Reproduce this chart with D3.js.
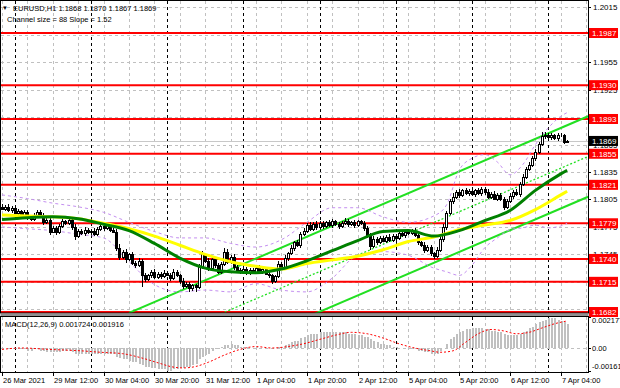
<!DOCTYPE html>
<html>
<head>
<meta charset="utf-8">
<script src="https://cdn.jsdelivr.net/npm/d3@7"></script>
<style>
  body { margin: 0; background: #fff; }
  svg { display: block; font-family: "Liberation Sans", Arial, sans-serif; }
</style>
</head>
<body>
<svg id="chart" width="620" height="388"></svg>
<script>
// ---- data ----
const symbolTitle = "EURUSD,H1"
const lastQuote = [1.1868, 1.1870, 1.1867, 1.1869]
const channelText = "Channel size = 88 Slope = 1.52"
const macdText = "MACD(12,26,9) 0.001724 0.001916"

const firstOpen = 1.1797
const closes = [
  1.1795, 1.1797, 1.1793, 1.1796, 1.1790, 1.1792, 1.1788, 1.1791, 1.1786, 1.1784,
  1.1788, 1.1791, 1.1787, 1.1780, 1.1783, 1.1770, 1.1774, 1.1769, 1.1776, 1.1781,
  1.1779, 1.1783, 1.1775, 1.1765, 1.1771, 1.1768, 1.1772, 1.1769, 1.1771, 1.1767,
  1.1773, 1.1776, 1.1774, 1.1777, 1.1772, 1.1770, 1.1752, 1.1742, 1.1748, 1.1740,
  1.1745, 1.1736, 1.1733, 1.1738, 1.1722, 1.1718, 1.1722, 1.1726, 1.1720, 1.1724,
  1.1721, 1.1725, 1.1723, 1.1719, 1.1726, 1.1722, 1.1716, 1.1710, 1.1713, 1.1708,
  1.1711, 1.1709, 1.1732, 1.1745, 1.1738, 1.1730, 1.1740, 1.1733, 1.1726, 1.1735,
  1.1748, 1.1737, 1.1742, 1.1731, 1.1728, 1.1726, 1.1729, 1.1725, 1.1728, 1.1726,
  1.1730, 1.1727, 1.1729, 1.1724, 1.1722, 1.1716, 1.1721, 1.1735, 1.1731, 1.1741,
  1.1746, 1.1752, 1.1758, 1.1755, 1.1767, 1.1771, 1.1777, 1.1773, 1.1778, 1.1775,
  1.1779, 1.1776, 1.1780, 1.1777, 1.1781, 1.1778, 1.1776, 1.1779, 1.1782, 1.1778,
  1.1780, 1.1777, 1.1781, 1.1779, 1.1774, 1.1766, 1.1754, 1.1762, 1.1758, 1.1763,
  1.1760, 1.1764, 1.1761, 1.1765, 1.1763, 1.1768, 1.1766, 1.1770, 1.1768, 1.1771,
  1.1766, 1.1758, 1.1755, 1.1750, 1.1753, 1.1746, 1.1743, 1.1750, 1.1762, 1.1775,
  1.1790, 1.1803, 1.1808, 1.1813, 1.1810, 1.1815, 1.1812, 1.1814, 1.1811, 1.1815,
  1.1812, 1.1817, 1.1813, 1.1808, 1.1811, 1.1806, 1.1810, 1.1805, 1.1797, 1.1803,
  1.1809, 1.1813, 1.1811, 1.1822, 1.1830, 1.1838, 1.1843, 1.1850, 1.1857, 1.1866,
  1.1874, 1.1876, 1.1873, 1.1875, 1.1872, 1.1875, 1.1876, 1.1868, 1.1869
]
// upper / lower shadow lengths in pips
const wickUp = [
  3,2,3,2,2,3,2,2,3,2, 2,3,2,3,2,4,2,2,2,3, 2,3,2,3,2,2,3,2,2,3,
  2,2,3,2,2,2,3,4,2,3, 2,3,2,3,2,3,2,2,3,2, 2,3,2,2,3,2,2,3,2,2,
  2,2,3,4,2,3,2,2,3,2, 4,3,2,3,2,2,3,2,2,2, 2,3,2,2,2,2,2,3,2,3,
  2,3,2,3,2,3,2,3,2,3, 2,3,2,3,3,2,2,3,3,2, 2,3,2,2,2,2,2,3,2,2,
  2,2,3,2,2,2,3,2,3,2, 3,2,2,3,2,2,2,3,4,3, 2,3,4,2,4,2,3,2,3,2,
  3,2,2,3,2,3,2,2,3,2, 3,2,3,2,3,2,3,2,3,2, 5,3,2,3,2,3,2,1,1
]
const wickDn = [
  2,3,2,3,2,2,3,2,3,2, 3,2,2,3,2,4,2,3,2,2, 2,2,3,4,2,2,3,2,3,2,
  2,2,3,2,3,2,3,3,2,4, 2,3,3,2,13,3,2,3,2,2, 3,2,2,3,2,2,3,3,2,4,
  3,5,2,3,2,3,2,3,2,2, 3,2,2,3,2,2,2,3,2,2, 2,2,3,2,3,3,2,2,3,2,
  3,2,3,2,3,2,3,2,2,3, 2,3,2,2,3,2,3,2,2,3, 2,3,2,2,3,3,4,2,3,2,
  2,3,2,2,3,2,2,3,2,2, 2,3,2,3,2,3,3,2,2,3, 3,2,3,2,3,2,2,3,2,3,
  2,3,3,2,3,2,3,2,3,2, 2,3,2,3,2,3,2,2,3,2, 2,3,2,3,2,3,2,2,1
]

const maBars = [0, 8, 16, 24, 32, 40, 48, 56, 64, 72, 80, 88, 96, 104, 112, 120, 128, 136, 144, 152, 160, 168, 176, 178]
const maGreen = [1.1783, 1.1785, 1.1786, 1.1784, 1.1778, 1.1771, 1.1757, 1.1741, 1.1730, 1.1726, 1.1725, 1.1729,
  1.1738, 1.1749, 1.1760, 1.1770, 1.1771, 1.1765, 1.1771, 1.1782, 1.1793, 1.1815, 1.1833, 1.1837]
const maYellow = [1.1788, 1.1787, 1.1786, 1.1784, 1.1779, 1.1773, 1.1765, 1.1755, 1.1745, 1.1737, 1.1732, 1.1729,
  1.1735, 1.1739, 1.1743, 1.1750, 1.1759, 1.1764, 1.1772, 1.1777, 1.1782, 1.1794, 1.1810, 1.1814]

const bbBars = [0, 8, 16, 24, 32, 40, 48, 56, 64, 72, 80, 88, 96, 104, 112, 120, 128, 136, 140, 144, 148, 152, 156, 160, 164, 168, 172, 176, 178]
const bbUpper = [1.1810, 1.1806, 1.1801, 1.1797, 1.1791, 1.1780, 1.1770, 1.1763, 1.1763, 1.1757, 1.1753, 1.1761, 1.1780,
  1.1796, 1.1796, 1.1786, 1.1780, 1.1787, 1.1799, 1.1837, 1.1850, 1.1854, 1.1846, 1.1832, 1.1843, 1.1865, 1.1883, 1.1896, 1.1900]
const bbLower = [1.1775, 1.1773, 1.1771, 1.1767, 1.1763, 1.1737, 1.1712, 1.1704, 1.1706, 1.1704, 1.1713, 1.1706, 1.1704,
  1.1719, 1.1744, 1.1748, 1.1744, 1.1730, 1.1726, 1.1722, 1.1733, 1.1752, 1.1763, 1.1772, 1.1774, 1.1777, 1.1774, 1.1776, 1.1779]

// regression channel: middle line at two bars, half width
const channelBars = [40, 184.6]
const channelMid = [1.1637, 1.1852]
const channelHalf = 0.0044

const levels = [1.1987, 1.1930, 1.1893, 1.1855, 1.1821, 1.1779, 1.1740, 1.1715, 1.1682]
const priceTicks = [1.2015, 1.1985, 1.1955, 1.1925, 1.1895, 1.1865, 1.1835, 1.1805, 1.1775, 1.1745, 1.1715, 1.1685]

const macdHist = [
  0.0000, 0.0000, -0.0001, 0.0000, -0.0001, -0.0001, -0.0001, -0.0001, -0.0002, -0.0002,
  -0.0001, -0.0001, -0.0002, -0.0002, -0.0003, -0.0003, -0.0003, -0.0003, -0.0003, -0.0002,
  -0.0002, -0.0002, -0.0003, -0.0004, -0.0004, -0.0004, -0.0004, -0.0004, -0.0004, -0.0004,
  -0.0004, -0.0004, -0.0004, -0.0004, -0.0004, -0.0004, -0.0006, -0.0007, -0.0008, -0.0008,
  -0.0009, -0.0010, -0.0010, -0.0011, -0.0012, -0.0013, -0.0013, -0.0014, -0.0014, -0.0015,
  -0.0015, -0.0015, -0.0016, -0.0016, -0.0015, -0.0015, -0.0014, -0.0014, -0.0013, -0.0013,
  -0.0012, -0.0011, -0.0008, -0.0006, -0.0005, -0.0004, -0.0002, -0.0001, 0.0000, 0.0001,
  0.0002, 0.0002, 0.0003, 0.0002, 0.0002, 0.0001, 0.0001, 0.0001, 0.0000, 0.0000,
  0.0001, 0.0000, 0.0000, 0.0000, 0.0000, -0.0001, 0.0000, 0.0001, 0.0001, 0.0002,
  0.0003, 0.0004, 0.0005, 0.0005, 0.0007, 0.0008, 0.0009, 0.0010, 0.0010, 0.0010,
  0.0011, 0.0011, 0.0011, 0.0011, 0.0011, 0.0011, 0.0011, 0.0011, 0.0011, 0.0010,
  0.0010, 0.0010, 0.0009, 0.0009, 0.0008, 0.0008, 0.0006, 0.0005, 0.0004, 0.0003,
  0.0003, 0.0002, 0.0002, 0.0001, 0.0001, 0.0000, 0.0000, 0.0000, -0.0001, -0.0001,
  -0.0001, -0.0002, -0.0002, -0.0003, -0.0003, -0.0004, -0.0004, -0.0004, -0.0002, 0.0000,
  0.0003, 0.0006, 0.0008, 0.0010, 0.0011, 0.0012, 0.0013, 0.0013, 0.0014, 0.0014,
  0.0014, 0.0014, 0.0013, 0.0013, 0.0012, 0.0012, 0.0011, 0.0011, 0.0010, 0.0009,
  0.0009, 0.0009, 0.0009, 0.0010, 0.0011, 0.0012, 0.0014, 0.0015, 0.0017, 0.0018,
  0.0019, 0.0020, 0.0021, 0.0021, 0.0021, 0.0020, 0.0019, 0.0018, 0.0017
]
const signalBars = [0, 6, 15, 25, 31, 38, 44, 50, 53, 57, 61, 65, 70, 75, 80, 85, 90, 95, 100, 105,
  110, 115, 120, 125, 130, 135, 138, 142, 146, 150, 154, 158, 162, 166, 170, 174, 178]
const macdSignal = [-0.0001, 0.0000, -0.0001, -0.0002, -0.0003, -0.0004, -0.0007, -0.0011, -0.0013, -0.0014,
  -0.0013, -0.0010, -0.0005, -0.0001, 0.0001, 0.0000, 0.0001, 0.0003, 0.0006, 0.0009,
  0.0011, 0.0010, 0.0007, 0.0003, 0.0000, -0.0002, -0.0003, -0.0002, 0.0004, 0.0010,
  0.0013, 0.0012, 0.0010, 0.0011, 0.0014, 0.0017, 0.0019]
const macdTicks = [0.002177, 0, -0.001616]
const macdTickLabels = ["0.002177", "0.00", "-0.001616"]

const timeBars = [0, 16, 32, 48, 64, 80, 96, 112, 128, 144, 160, 176]
const timeLabels = ["26 Mar 2021", "29 Mar 12:00", "30 Mar 04:00", "30 Mar 20:00", "31 Mar 12:00", "1 Apr 04:00",
  "1 Apr 20:00", "2 Apr 12:00", "5 Apr 04:00", "5 Apr 20:00", "6 Apr 12:00", "7 Apr 04:00"]
const dayBars = [4, 28, 52, 76, 100, 124, 148, 172]
const gridBars = d3.range(0, 185, 8)

// ---- layout ----
const pip = 0.0001
const left = 1, right = 588
const mainTop = 1, mainBottom = 313
const subTop = 317, subBottom = 372

const svg = d3.select("#chart")

const x = d3.scaleLinear().domain([0, (right - 2) / 3.175]).range([2, right])
const y = d3.scaleLinear().domain([1.168092, 1.202198]).range([mainBottom, mainTop])
const ym = d3.scaleLinear().domain([-0.001616, 0.002177]).range([subBottom - 1, subTop])
const px = (i) => Math.round(x(i))

svg.append("rect").attr("width", 620).attr("height", 388).attr("fill", "#fff")

const defs = svg.append("defs")
defs.append("clipPath").attr("id", "clipMain")
  .append("rect").attr("x", left).attr("y", mainTop).attr("width", right - left).attr("height", mainBottom - mainTop)
defs.append("clipPath").attr("id", "clipSub")
  .append("rect").attr("x", left).attr("y", subTop).attr("width", right - left).attr("height", subBottom - subTop)

const main = svg.append("g").attr("clip-path", "url(#clipMain)")
const sub = svg.append("g").attr("clip-path", "url(#clipSub)")

// grid
main.selectAll("line.hgrid").data(priceTicks).join("line")
  .attr("class", "hgrid")
  .attr("x1", left).attr("x2", right)
  .attr("y1", d => Math.round(y(d)) + 0.5).attr("y2", d => Math.round(y(d)) + 0.5)
  .attr("stroke", "#c0c0c0").attr("stroke-dasharray", "3,3")

const vgrid = (g, top, bottom) => {
  g.selectAll("line.vgrid").data(gridBars).join("line")
    .attr("class", "vgrid")
    .attr("x1", d => px(d) + 0.5).attr("x2", d => px(d) + 0.5)
    .attr("y1", top).attr("y2", bottom)
    .attr("stroke", "#c0c0c0").attr("stroke-dasharray", "3,3")
  g.selectAll("line.day").data(dayBars).join("line")
    .attr("class", "day")
    .attr("x1", d => px(d) + 0.5).attr("x2", d => px(d) + 0.5)
    .attr("y1", top).attr("y2", bottom)
    .attr("stroke", "#000").attr("stroke-dasharray", "3,3")
}
vgrid(main, mainTop, mainBottom)
vgrid(sub, subTop, subBottom)

// bid line
main.append("line")
  .attr("x1", left).attr("x2", right)
  .attr("y1", Math.round(y(lastQuote[3])) + 0.5).attr("y2", Math.round(y(lastQuote[3])) + 0.5)
  .attr("stroke", "#c8c8c8")

// horizontal levels
main.selectAll("line.level").data(levels).join("line")
  .attr("class", "level")
  .attr("x1", left).attr("x2", right)
  .attr("y1", d => y(d)).attr("y2", d => y(d))
  .attr("stroke", "#ff0000").attr("stroke-width", 2)

// regression channel
const chan = [-1, 0, 1].map(k => channelBars.map((b, j) => ({ i: b, v: channelMid[j] + k * channelHalf })))
const straight = d3.line().x(d => x(d.i)).y(d => y(d.v))
main.selectAll("path.chan").data(chan).join("path")
  .attr("class", "chan")
  .attr("d", straight)
  .attr("fill", "none")
  .attr("stroke", "#22e022")
  .attr("stroke-width", (d, k) => k === 1 ? 1.3 : 2)
  .attr("stroke-dasharray", (d, k) => k === 1 ? "2,2" : null)

// bollinger bands
const curve = d3.line().x(d => x(d.i)).y(d => y(d.v)).curve(d3.curveMonotoneX)
const bands = [bbUpper, bbLower].map(arr => arr.map((v, j) => ({ i: bbBars[j], v })))
main.selectAll("path.bb").data(bands).join("path")
  .attr("class", "bb")
  .attr("d", curve)
  .attr("fill", "none")
  .attr("stroke", "#c48ff0")
  .attr("stroke-dasharray", "3,3")

// candles
const candles = closes.map((c, i) => {
  const o = i ? closes[i - 1] : firstOpen
  return { i, o, c, h: Math.max(o, c) + wickUp[i] * pip, l: Math.min(o, c) - wickDn[i] * pip }
})
const cg = main.append("g").attr("shape-rendering", "crispEdges")
cg.selectAll("line").data(candles).join("line")
  .attr("x1", d => px(d.i) + 0.5).attr("x2", d => px(d.i) + 0.5)
  .attr("y1", d => Math.round(y(d.h))).attr("y2", d => Math.round(y(d.l)))
  .attr("stroke", "#000")
cg.selectAll("rect").data(candles).join("rect")
  .attr("x", d => px(d.i) - 0.5)
  .attr("y", d => Math.round(y(Math.max(d.o, d.c))) + 0.5)
  .attr("width", 2)
  .attr("height", d => Math.max(0, Math.round(y(Math.min(d.o, d.c))) - Math.round(y(Math.max(d.o, d.c)))))
  .attr("fill", d => d.c > d.o ? "#fff" : "#000")
  .attr("stroke", "#000")

// moving averages
const mas = [
  { color: "#ffff00", pts: maYellow.map((v, j) => ({ i: maBars[j], v })) },
  { color: "#008000", pts: maGreen.map((v, j) => ({ i: maBars[j], v })) }
]
main.selectAll("path.ma").data(mas).join("path")
  .attr("class", "ma")
  .attr("d", d => curve(d.pts))
  .attr("fill", "none")
  .attr("stroke", d => d.color)
  .attr("stroke-width", 3)
  .attr("stroke-linejoin", "round")

// ---- MACD window ----
sub.append("line")
  .attr("x1", left).attr("x2", right)
  .attr("y1", Math.round(ym(0)) + 0.5).attr("y2", Math.round(ym(0)) + 0.5)
  .attr("stroke", "#c0c0c0").attr("stroke-dasharray", "3,3")
sub.append("g").attr("shape-rendering", "crispEdges")
  .selectAll("rect").data(macdHist).join("rect")
  .attr("x", (d, i) => px(i))
  .attr("y", d => Math.round(ym(Math.max(0, d))))
  .attr("width", 2)
  .attr("height", d => Math.abs(Math.round(ym(d)) - Math.round(ym(0))))
  .attr("fill", "#c0c0c0")
sub.append("path")
  .datum(macdSignal.map((v, j) => ({ i: signalBars[j], v })))
  .attr("d", d3.line().x(d => x(d.i)).y(d => ym(d.v)).curve(d3.curveMonotoneX))
  .attr("fill", "none")
  .attr("stroke", "#ff0000")
  .attr("stroke-dasharray", "2,2")

// frames and window splitter
svg.append("rect").attr("x", left - 0.5).attr("y", mainTop - 0.5)
  .attr("width", right - left + 1).attr("height", mainBottom - mainTop + 0.5)
  .attr("fill", "none").attr("stroke", "#000")
svg.append("rect").attr("x", left - 0.5).attr("y", mainBottom + 1)
  .attr("width", right - left + 1).attr("height", subTop - mainBottom - 2)
  .attr("fill", "#909090")
svg.append("rect").attr("x", left - 0.5).attr("y", subTop - 0.5)
  .attr("width", right - left + 1).attr("height", subBottom - subTop + 1)
  .attr("fill", "none").attr("stroke", "#000")

// ---- price axis ----
const tagData = levels.map(v => ({ v, bg: "#ff0000" })).concat([{ v: lastQuote[3], bg: "#000" }])
// tick labels sitting right under a price tag are covered in the original
const shownTicks = priceTicks.filter(t => !tagData.some(g => Math.abs(y(g.v) - y(t)) < 3.5))

const axis = svg.append("g").attr("font-size", 8).attr("fill", "#000")
axis.selectAll("line").data(priceTicks).join("line")
  .attr("x1", right).attr("x2", right + 3)
  .attr("y1", d => Math.round(y(d)) + 0.5).attr("y2", d => Math.round(y(d)) + 0.5)
  .attr("stroke", "#000")
axis.selectAll("text").data(shownTicks).join("text")
  .attr("x", right + 5).attr("y", d => y(d) + 3)
  .text(d => d.toFixed(4))

const tags = svg.append("g").attr("font-size", 8)
tags.selectAll("rect").data(tagData).join("rect")
  .attr("x", right + 1).attr("y", d => y(d.v) - 5)
  .attr("width", 29).attr("height", 10)
  .attr("fill", d => d.bg)
tags.selectAll("text").data(tagData).join("text")
  .attr("x", right + 4).attr("y", d => y(d.v) + 3)
  .attr("fill", "#fff")
  .text(d => d.v.toFixed(4))

// MACD axis
const maxis = svg.append("g").attr("font-size", 7.5)
maxis.selectAll("line").data(macdTicks).join("line")
  .attr("x1", right).attr("x2", right + 3)
  .attr("y1", d => Math.round(ym(d)) + 0.5).attr("y2", d => Math.round(ym(d)) + 0.5)
  .attr("stroke", "#000")
maxis.selectAll("text").data(macdTicks).join("text")
  .attr("x", right + 4)
  .attr("y", (d, k) => ym(d) + (k === 0 ? 6 : k === 2 ? -2 : 3))
  .text((d, k) => macdTickLabels[k])

// time axis
const taxis = svg.append("g").attr("font-size", 7.5)
taxis.selectAll("line").data(timeBars).join("line")
  .attr("x1", d => px(d) + 0.5).attr("x2", d => px(d) + 0.5)
  .attr("y1", subBottom).attr("y2", subBottom + 4)
  .attr("stroke", "#000")
taxis.selectAll("text").data(timeBars).join("text")
  .attr("x", d => px(d) + 1).attr("y", 383)
  .text((d, k) => timeLabels[k])

// ---- labels in the windows ----
const head = svg.append("g").attr("font-size", 7.5).attr("fill", "#000")
head.append("text").attr("x", 2).attr("y", 10).attr("font-size", 6).text("\u25BC")
head.append("text").attr("x", 13).attr("y", 10.5)
  .text(`${symbolTitle}  ${lastQuote.map(d => d.toFixed(4)).join(" ")}`)
head.append("text").attr("x", 7).attr("y", 21.5).text(channelText)
head.append("text").attr("x", 5).attr("y", 327).text(macdText)
</script>
</body>
</html>
